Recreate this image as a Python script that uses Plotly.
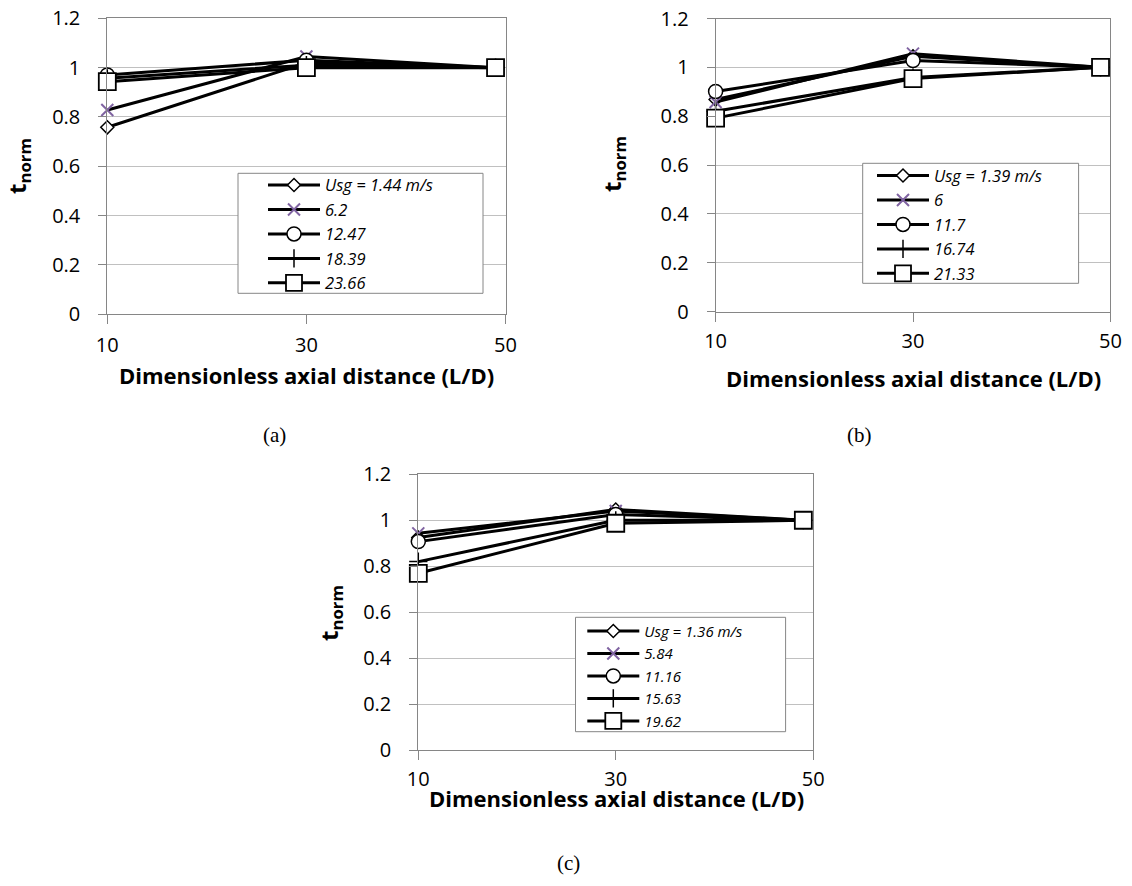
import plotly.graph_objects as go

# ---------------- data ----------------
x_vals = [10, 30, 49]
x_ticks = [10, 30, 50]
y_ticks = [0, 0.2, 0.4, 0.6, 0.8, 1, 1.2]
y_tick_text = ["0", "0.2", "0.4", "0.6", "0.8", "1", "1.2"]

a_names = ["Usg = 1.44 m/s", "6.2", "12.47", "18.39", "23.66"]
a_s1 = [0.758, 1.02, 1.0]
a_s2 = [0.828, 1.045, 1.0]
a_s3 = [0.97, 1.03, 1.0]
a_s4 = [0.957, 1.01, 1.0]
a_s5 = [0.943, 1.0, 1.0]

b_names = ["Usg = 1.39 m/s", "6", "11.7", "16.74", "21.33"]
b_s1 = [0.868, 1.045, 1.0]
b_s2 = [0.858, 1.056, 1.0]
b_s3 = [0.901, 1.028, 1.0]
b_s4 = [0.82, 0.958, 1.0]
b_s5 = [0.792, 0.954, 1.0]

c_names = ["Usg = 1.36 m/s", "5.84", "11.16", "15.63", "19.62"]
c_s1 = [0.925, 1.047, 1.0]
c_s2 = [0.943, 1.04, 1.0]
c_s3 = [0.907, 1.025, 1.0]
c_s4 = [0.82, 1.0, 1.0]
c_s5 = [0.769, 0.987, 1.0]

captions = ["(a)", "(b)", "(c)"]
x_title = "Dimensionless axial distance (L/D)"
y_title = "t<sub>norm</sub>"

# ---------------- styles ----------------
FONT = "Open Sans"
W, H = 1132, 886
PURPLE = "#8064A2"
AXIS_GRAY = "#868686"
marker_styles = [
    dict(symbol="diamond", size=10, color="white", line=dict(color="black", width=1.5)),
    dict(symbol="x-thin", size=12, color=PURPLE, line=dict(color=PURPLE, width=2)),
    dict(symbol="circle", size=14, color="white", line=dict(color="black", width=1.5)),
    dict(symbol="cross-thin", size=13, color="black", line=dict(color="black", width=1.5)),
    dict(symbol="square", size=17, color="white", line=dict(color="black", width=1.8)),
]

fig = go.Figure()

panels = [
    (a_names, [a_s1, a_s2, a_s3, a_s4, a_s5], "x", "y", "legend"),
    (b_names, [b_s1, b_s2, b_s3, b_s4, b_s5], "x2", "y2", "legend2"),
    (c_names, [c_s1, c_s2, c_s3, c_s4, c_s5], "x3", "y3", "legend3"),
]
for names, series, xa, ya, lg in panels:
    for name, ys, ms in zip(names, series, marker_styles):
        fig.add_trace(go.Scatter(
            x=x_vals, y=ys, name=name, mode="lines+markers",
            line=dict(color="black", width=3), marker=ms,
            xaxis=xa, yaxis=ya, legend=lg, cliponaxis=False,
        ))


def px_x(p):
    return p / W


def px_y(p):
    return 1 - p / H


# plot-area boxes in pixels: (left, right, top, bottom)
boxes = [(107.3, 505.5, 18.3, 314.3), (715.6, 1110.4, 18.5, 311.5), (418.3, 813.2, 474.3, 750)]
x_standoff = [4, 2, 2]

for i, (l, r, t, b) in enumerate(boxes):
    sfx = "" if i == 0 else str(i + 1)
    fig.layout["xaxis" + sfx] = dict(
        domain=[px_x(l), px_x(r)], anchor="y" + sfx, automargin=False,
        range=[10, 50], tickvals=x_ticks, ticks="outside", ticklen=9,
        tickcolor=AXIS_GRAY, showgrid=False, zeroline=False,
        showline=True, linecolor=AXIS_GRAY, linewidth=1, mirror=True,
        tickfont=dict(family=FONT, size=20, color="black"),
        ticklabelstandoff=x_standoff[i],
    )
    fig.layout["yaxis" + sfx] = dict(
        domain=[px_y(b), px_y(t)], anchor="x" + sfx, automargin=False,
        range=[0, 1.2], tickvals=y_ticks, ticktext=y_tick_text,
        ticks="outside", ticklen=8, tickcolor=AXIS_GRAY,
        showgrid=True, gridcolor="#C0C0C0", gridwidth=1, zeroline=False,
        showline=True, linecolor=AXIS_GRAY, linewidth=1, mirror=True,
        tickfont=dict(family=FONT, size=20, color="black"),
        ticklabelstandoff=14,
    )

# legend frames (left, right, top, bottom) and legend item origins
legend_frames = [(238, 483, 173.3, 293.3), (862.7, 1078.6, 163.3, 283.3), (575.5, 785.6, 617.3, 731.7)]
legend_pos = [(263, 167.8), (872, 158.3), (582.3, 614.7)]
legend_font = [16.5, 16.5, 15]
shapes = []
for i, (lx, ly) in enumerate(legend_pos):
    key = "legend" if i == 0 else "legend" + str(i + 1)
    fig.layout[key] = dict(
        x=px_x(lx), y=px_y(ly), xanchor="left", yanchor="top",
        bgcolor="rgba(0,0,0,0)", borderwidth=0,
        font=dict(family=FONT, size=legend_font[i], color="black", style="italic"),
        itemwidth=52, tracegroupgap=0,
    )
    fl, fr, ft, fb = legend_frames[i]
    shapes.append(dict(
        type="rect", xref="paper", yref="paper", layer="above",
        x0=px_x(fl), x1=px_x(fr), y0=px_y(fb), y1=px_y(ft),
        fillcolor="white", line=dict(color=AXIS_GRAY, width=1),
    ))

# axis titles, y titles, captions
xt_pos = [(306, 375), (913, 378), (616, 798)]
yt_pos = [(18, 166), (613, 164), (330, 613)]
cap_pos = [(274, 435), (859, 435), (568, 863)]
annots = []
for i in range(3):
    annots.append(dict(
        text="<b>" + x_title + "</b>", x=px_x(xt_pos[i][0]), y=px_y(xt_pos[i][1]),
        xref="paper", yref="paper", showarrow=False, xanchor="center", yanchor="middle",
        font=dict(family=FONT, size=22, color="black"),
    ))
    annots.append(dict(
        text="<b>" + y_title + "</b>", x=px_x(yt_pos[i][0]), y=px_y(yt_pos[i][1]),
        xref="paper", yref="paper", showarrow=False, xanchor="center", yanchor="middle",
        textangle=-90, font=dict(family=FONT, size=24, color="black"),
    ))
    annots.append(dict(
        text=captions[i], x=px_x(cap_pos[i][0]), y=px_y(cap_pos[i][1]),
        xref="paper", yref="paper", showarrow=False, xanchor="center", yanchor="middle",
        font=dict(family="Liberation Serif", size=21, color="black"),
    ))

fig.update_layout(
    template="none",
    width=W, height=H, margin=dict(l=0, r=0, t=0, b=0),
    paper_bgcolor="white", plot_bgcolor="white",
    annotations=annots, shapes=shapes, showlegend=True,
)

fig.write_html(
    "out.html",
    config={"displayModeBar": False},
    post_script="document.body.style.margin='0';",
)
